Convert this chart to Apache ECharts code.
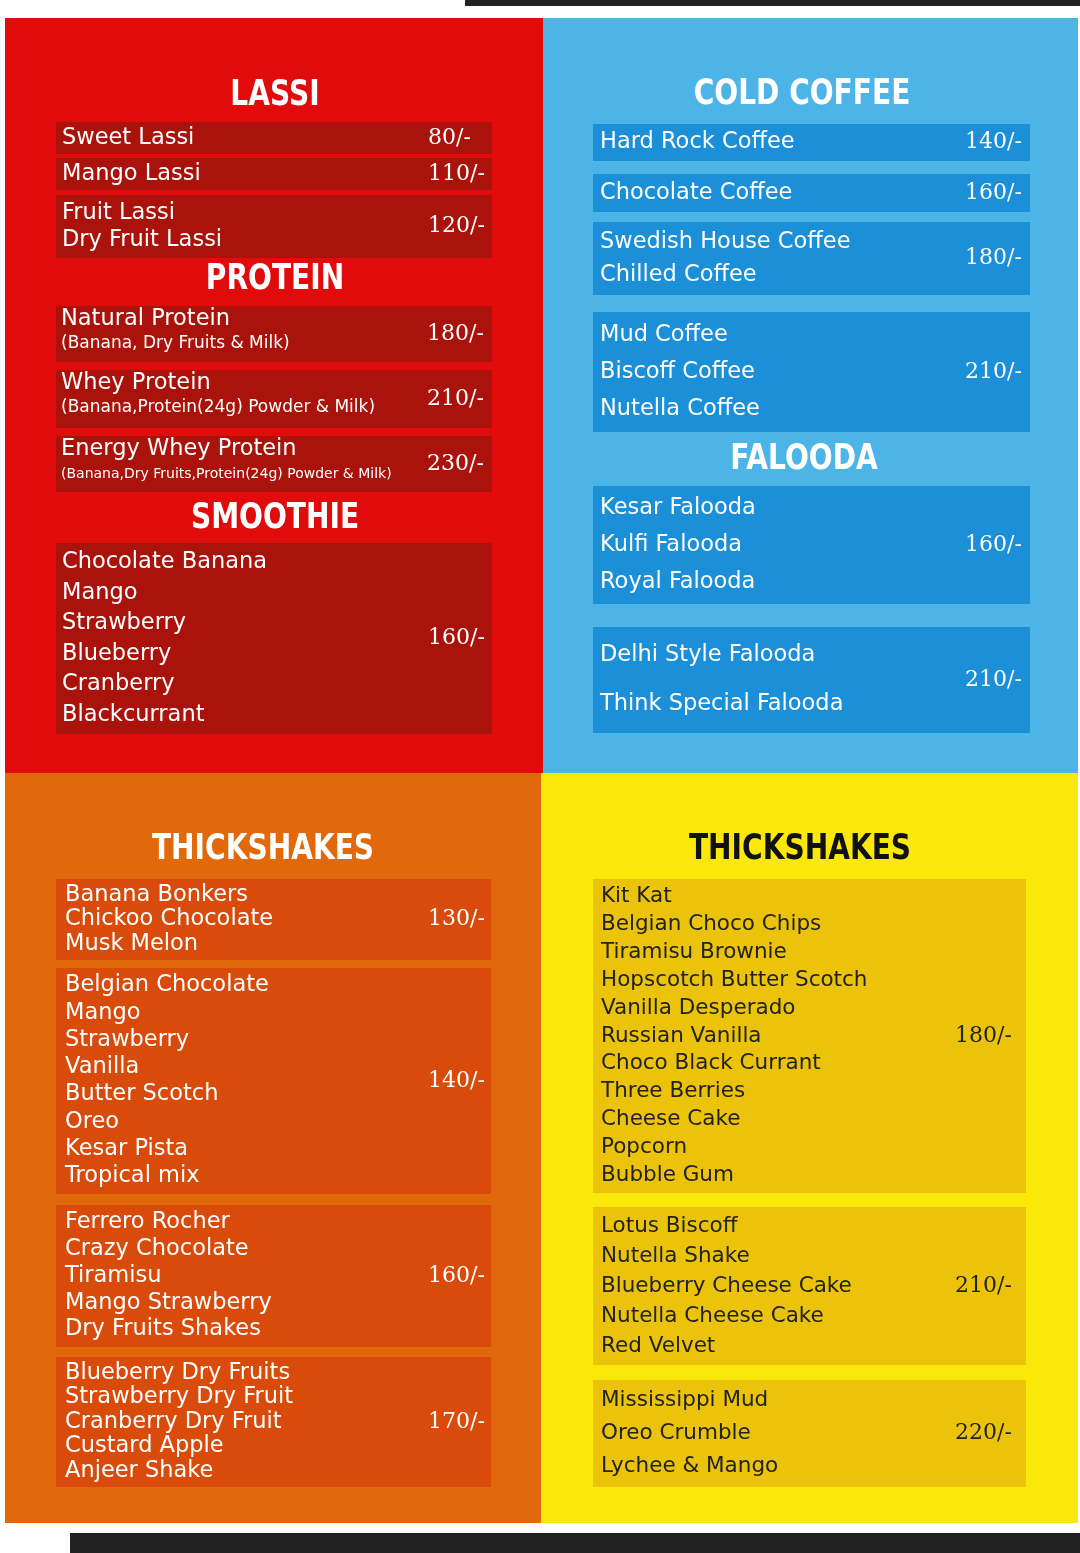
<!DOCTYPE html>
<html><head><meta charset="utf-8">
<script src="https://cdn.jsdelivr.net/npm/echarts@6/dist/echarts.min.js"></script>
<style>html,body{margin:0;padding:0;background:#fff}#c{width:1080px;height:1553px}</style>
</head><body><div id="c"></div>
<script>
// ---- DATA ----
const titles = ["LASSI","PROTEIN","SMOOTHIE","COLD COFFEE","FALOODA","THICKSHAKES","THICKSHAKES"];
const lassiGroups = [["Sweet Lassi"],["Mango Lassi"],["Fruit Lassi","Dry Fruit Lassi"]];
const lassiPrices = ["80/-","110/-","120/-"];
const proteinNames = ["Natural Protein","Whey Protein","Energy Whey Protein"];
const proteinNotes = ["(Banana, Dry Fruits & Milk)","(Banana,Protein(24g) Powder & Milk)","(Banana,Dry Fruits,Protein(24g) Powder & Milk)"];
const proteinPrices = ["180/-","210/-","230/-"];
const smoothieGroups = [["Chocolate Banana","Mango","Strawberry","Blueberry","Cranberry","Blackcurrant"]];
const smoothiePrices = ["160/-"];
const coffeeGroups = [["Hard Rock Coffee"],["Chocolate Coffee"],["Swedish House Coffee","Chilled Coffee"],["Mud Coffee","Biscoff Coffee","Nutella Coffee"]];
const coffeePrices = ["140/-","160/-","180/-","210/-"];
const faloodaGroups = [["Kesar Falooda","Kulfi Falooda","Royal Falooda"],["Delhi Style Falooda","Think Special Falooda"]];
const faloodaPrices = ["160/-","210/-"];
const shakeAGroups = [["Banana Bonkers","Chickoo Chocolate","Musk Melon"],
  ["Belgian Chocolate","Mango","Strawberry","Vanilla","Butter Scotch","Oreo","Kesar Pista","Tropical mix"],
  ["Ferrero Rocher","Crazy Chocolate","Tiramisu","Mango Strawberry","Dry Fruits Shakes"],
  ["Blueberry Dry Fruits","Strawberry Dry Fruit","Cranberry Dry Fruit","Custard Apple","Anjeer Shake"]];
const shakeAPrices = ["130/-","140/-","160/-","170/-"];
const shakeBGroups = [["Kit Kat","Belgian Choco Chips","Tiramisu Brownie","Hopscotch Butter Scotch","Vanilla Desperado","Russian Vanilla","Choco Black Currant","Three Berries","Cheese Cake","Popcorn","Bubble Gum"],
  ["Lotus Biscoff","Nutella Shake","Blueberry Cheese Cake","Nutella Cheese Cake","Red Velvet"],
  ["Mississippi Mud","Oreo Crumble","Lychee & Mango"]];
const shakeBPrices = ["180/-","210/-","220/-"];

// ---- LAYOUT (positions/styles) ----
const lassiBoxes = [[122,154],[158,190],[195,258]];
const proteinBoxes = [[306,362],[370,428],[436,492]];
const smoothieBoxes = [[543,734]];
const coffeeBoxes = [[124,161],[174,212],[222,295],[312,432]];
const faloodaBoxes = [[486,604],[627,733]];
const shakeABoxes = [[879,960],[968,1194],[1205,1347],[1357,1487]];
const shakeBBoxes = [[879,1193],[1207,1365],[1380,1487]];
const titlePos = [[275,96],[275,280],[275,519],[802,95],[804,460],[263,850],[800,850]];
const titleColors = ['#fff','#fff','#fff','#fff','#fff','#fff','#111'];

const TF = "'DejaVu Sans',sans-serif";
const IF = "'DejaVu Sans',sans-serif";
const PF = "'DejaVu Serif',serif";
const els = [];
function rect(x,y,w,h,fill){els.push({type:'rect',shape:{x,y,width:w,height:h},style:{fill},silent:true});}
function txt(x,y,t,font,fill,align,sx){els.push({type:'text',x,y,scaleX:sx||1,style:{text:t,font,fill,align:align||'left',verticalAlign:'middle'},silent:true});}

rect(465,0,615,6,'#222');
rect(5,18,538,755,'#e10b0b');
rect(543,18,535,755,'#4db4e7');
rect(5,773,536,750,'#e2690b');
rect(541,773,537,750,'#fbe80b');
rect(70,1533,1010,20,'#222');

function drawBoxes(groups,prices,boxes,x0,x1,tx,px,fill,color,fs){
  groups.forEach((g,i)=>{
    const [y0,y1]=boxes[i];
    rect(x0,y0,x1-x0,y1-y0,fill);
    const n=g.length, pad=n>1?4:0, h=(y1-y0-2*pad)/n;
    g.forEach((s,j)=>txt(tx,y0+pad+h*(j+0.5),s,fs+'px '+IF,color));
    txt(px,(y0+y1)/2,prices[i],'22px '+PF,color);
  });
}
drawBoxes(lassiGroups,lassiPrices,lassiBoxes,56,492,62,428,'#a9130c','#fff',22.5);
proteinNames.forEach((nm,i)=>{
  const [y0,y1]=proteinBoxes[i];
  rect(56,y0,436,y1-y0,'#a9130c');
  txt(61,y0+13,nm,'22.5px '+IF,'#fff');
  txt(61,y0+38,proteinNotes[i],(i==2?'14px ':'17px ')+IF,'#fff');
  txt(427,(y0+y1)/2,proteinPrices[i],'22px '+PF,'#fff');
});
drawBoxes(smoothieGroups,smoothiePrices,smoothieBoxes,56,492,62,428,'#a9130c','#fff',22.5);
drawBoxes(coffeeGroups,coffeePrices,coffeeBoxes,593,1030,600,965,'#1b8fd8','#fff',22.5);
drawBoxes(faloodaGroups,faloodaPrices,faloodaBoxes,593,1030,600,965,'#1b8fd8','#fff',22.5);
drawBoxes(shakeAGroups,shakeAPrices,shakeABoxes,56,491,65,428,'#d84b0b','#fff',22.5);
drawBoxes(shakeBGroups,shakeBPrices,shakeBBoxes,593,1026,601,955,'#ecc30b','#222',21.5);
titles.forEach((t,i)=>txt(titlePos[i][0],titlePos[i][1],t,'bold 36px '+TF,titleColors[i],'center',0.78));

const chart = echarts.init(document.getElementById('c'));
chart.setOption({animation:false,graphic:{elements:els}});
</script></body></html>
